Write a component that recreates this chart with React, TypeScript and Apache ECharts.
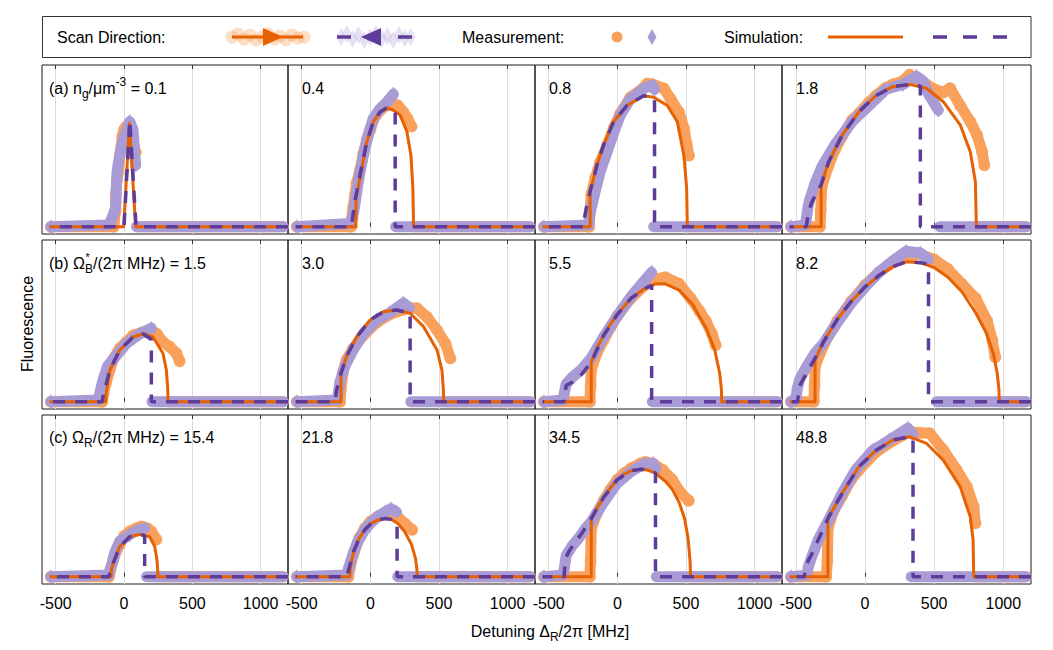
import React, { useEffect, useRef } from "react";
import * as echarts from "echarts";

const FONT = "'Liberation Sans', Arial, Helvetica, sans-serif";
const xTicks = [-500, 0, 500, 1000];
const xMin = -600;
const xMax = 1200;
const yMin = -0.045;
const yMax = 1;
const measEnd = 1165;

const panelValues = ["0.1", "0.4", "0.8", "1.8", "1.5", "3.0", "5.5", "8.2", "15.4", "21.8", "34.5", "48.8"];

// ---------- Row (a) ----------
const simF01 = [[-545, 0], [-2, 0], [40, 0.64], [85, 0], [1200, 0]];
const simB01 = [[1200, 0], [88, 0], [42, 0.66], [8, 0.12], [0, 0], [-545, 0]];
const measF01 = [[-535, 0], [-75, 0], [-62, 0.1], [-60, 0.2], [-51, 0.29], [-44, 0.33], [-31, 0.44], [-19, 0.5], [-12, 0.56], [0, 0.6], [17, 0.62], [42, 0.63], [54, 0.57], [71, 0.5], [86, 0.46]];
const measB01 = [[-535, 0], [-120, 0.01], [-100, 0.03], [-80, 0.07], [-62, 0.12], [-51, 0.34], [-44, 0.38], [-27, 0.46], [-12, 0.52], [17, 0.59], [42, 0.65], [66, 0.6], [78, 0.45], [86, 0.38]];

const simF02 = [[-545, 0], [-105, 0], [-105, 0.175], [-75, 0.3], [-26, 0.525], [22, 0.65], [71, 0.71], [120, 0.735], [168, 0.72], [217, 0.69], [266, 0.59], [296, 0.44], [310, 0.24], [315, 0], [1200, 0]];
const simB02 = [[1200, 0], [181, 0], [181, 0.7], [168, 0.72], [120, 0.735], [71, 0.71], [22, 0.65], [-26, 0.525], [-75, 0.32], [-112, 0.16], [-130, 0.05], [-138, 0], [-545, 0]];
const measF02 = [[-535, 0], [-140, 0], [-136, 0.05], [-125, 0.12], [-112, 0.2], [-100, 0.27], [-75, 0.35], [-51, 0.45], [-26, 0.54], [0, 0.6], [22, 0.66], [71, 0.72], [120, 0.75], [168, 0.76], [200, 0.75], [240, 0.71], [270, 0.67], [300, 0.62]];
const measB02 = [[-535, 0], [-148, 0.02], [-128, 0.06], [-112, 0.14], [-95, 0.24], [-75, 0.34], [-51, 0.44], [-15, 0.57], [22, 0.67], [71, 0.73], [120, 0.77], [168, 0.82]];

const simF03 = [[-545, 0], [-198, 0], [-198, 0.216], [-149, 0.38], [-100, 0.505], [-27, 0.65], [71, 0.75], [192, 0.81], [266, 0.8], [364, 0.75], [437, 0.65], [485, 0.44], [505, 0.24], [510, 0], [1200, 0]];
const simB03 = [[1200, 0], [271, 0], [271, 0.795], [192, 0.81], [71, 0.75], [-27, 0.65], [-100, 0.505], [-149, 0.38], [-198, 0.22], [-225, 0.12], [-241, 0.05], [-245, 0], [-545, 0]];
const measF03 = [[-535, 0], [-205, 0], [-200, 0.08], [-190, 0.2], [-161, 0.3], [-125, 0.4], [-76, 0.5], [-27, 0.61], [22, 0.7], [95, 0.8], [192, 0.86], [217, 0.885], [260, 0.88], [339, 0.855], [388, 0.79], [449, 0.71], [485, 0.61], [505, 0.515], [522, 0.44]];
const measB03 = [[-535, 0], [-210, 0.01], [-203, 0.07], [-186, 0.13], [-161, 0.22], [-125, 0.34], [-76, 0.46], [-27, 0.58], [22, 0.69], [95, 0.79], [192, 0.855], [254, 0.876], [270, 0.85]];

const simF04 = [[-545, 0], [-317, 0], [-317, 0.258], [-263, 0.4], [-165, 0.567], [-44, 0.71], [78, 0.81], [200, 0.866], [322, 0.88], [444, 0.856], [566, 0.773], [688, 0.63], [761, 0.464], [798, 0.278], [805, 0], [1200, 0]];
const simB04 = [[1200, 0], [400, 0], [400, 0.87], [322, 0.88], [200, 0.866], [78, 0.81], [-44, 0.71], [-165, 0.567], [-263, 0.4], [-317, 0.26], [-380, 0.16], [-410, 0.093], [-420, 0.02], [-425, 0], [-545, 0]];
const measF04 = [[-535, 0], [-325, 0], [-320, 0.1], [-312, 0.25], [-263, 0.38], [-215, 0.48], [-165, 0.56], [-93, 0.66], [-44, 0.7], [29, 0.77], [78, 0.81], [151, 0.86], [200, 0.88], [273, 0.9], [322, 0.94], [371, 0.92], [444, 0.88], [500, 0.85], [566, 0.83], [615, 0.856], [688, 0.75], [761, 0.65], [810, 0.567], [846, 0.464], [863, 0.38]];
const measB04 = [[-535, 0], [-430, 0.01], [-422, 0.06], [-410, 0.13], [-398, 0.17], [-361, 0.27], [-312, 0.37], [-215, 0.51], [-93, 0.65], [29, 0.75], [151, 0.85], [273, 0.88], [371, 0.93], [420, 0.9], [460, 0.82], [530, 0.72]];

// ---------- Row (b) ----------
const simF05 = [[-545, 0], [-134, 0], [-130, 0.05], [-104, 0.195], [-31, 0.32], [66, 0.4], [139, 0.42], [212, 0.4], [285, 0.3], [310, 0.196], [320, 0.08], [322, 0], [1200, 0]];
const simB05 = [[1200, 0], [200, 0], [200, 0.385], [139, 0.42], [66, 0.4], [-31, 0.32], [-104, 0.195], [-140, 0.08], [-154, 0.03], [-160, 0], [-545, 0]];
const measF05 = [[-535, 0], [-160, 0], [-150, 0.05], [-130, 0.12], [-104, 0.2], [-80, 0.26], [-31, 0.33], [17, 0.37], [66, 0.41], [139, 0.43], [200, 0.44], [240, 0.42], [285, 0.37], [334, 0.34], [383, 0.3], [407, 0.25]];
const measB05 = [[-535, 0], [-185, 0.01], [-178, 0.05], [-154, 0.134], [-120, 0.22], [-80, 0.26], [17, 0.36], [115, 0.42], [200, 0.454]];

const simF06 = [[-545, 0], [-214, 0], [-214, 0.175], [-173, 0.28], [-100, 0.4], [-2, 0.505], [95, 0.557], [193, 0.567], [290, 0.547], [388, 0.464], [486, 0.32], [522, 0.196], [532, 0.08], [534, 0], [1200, 0]];
const simB06 = [[1200, 0], [290, 0], [290, 0.547], [193, 0.567], [95, 0.557], [-2, 0.505], [-100, 0.4], [-173, 0.28], [-214, 0.175], [-246, 0.07], [-256, 0.01], [-258, 0], [-545, 0]];
const measF06 = [[-535, 0], [-220, 0], [-214, 0.08], [-200, 0.18], [-173, 0.26], [-125, 0.33], [-52, 0.41], [46, 0.49], [143, 0.54], [241, 0.57], [290, 0.58], [339, 0.578], [412, 0.525], [486, 0.443], [547, 0.36], [583, 0.268]];
const measB06 = [[-535, 0], [-240, 0.01], [-234, 0.05], [-222, 0.12], [-186, 0.22], [-125, 0.32], [-52, 0.42], [46, 0.505], [143, 0.55], [241, 0.61], [285, 0.58]];

const simF07 = [[-545, 0], [-190, 0], [-190, 0.245], [-150, 0.33], [-100, 0.41], [-50, 0.48], [0, 0.54], [100, 0.64], [200, 0.7], [280, 0.73], [350, 0.728], [450, 0.69], [550, 0.6], [650, 0.45], [710, 0.32], [745, 0.18], [758, 0.08], [761, 0], [1200, 0]];
const simB07 = [[1200, 0], [250, 0], [250, 0.72], [200, 0.7], [100, 0.64], [0, 0.54], [-100, 0.41], [-190, 0.245], [-260, 0.17], [-330, 0.12], [-373, 0.1], [-385, 0.03], [-388, 0], [-545, 0]];
const measF07 = [[-535, 0], [-200, 0], [-195, 0.1], [-190, 0.2], [-150, 0.3], [-100, 0.38], [-50, 0.46], [0, 0.53], [100, 0.64], [200, 0.72], [280, 0.76], [350, 0.77], [450, 0.73], [534, 0.64], [600, 0.56], [644, 0.5], [690, 0.42], [717, 0.35]];
const measB07 = [[-535, 0], [-395, 0.01], [-385, 0.06], [-373, 0.11], [-330, 0.15], [-260, 0.2], [-190, 0.27], [-100, 0.4], [0, 0.53], [100, 0.65], [200, 0.75], [250, 0.8]];

const simF08 = [[-545, 0], [-361, 0], [-361, 0.26], [-300, 0.37], [-250, 0.44], [-200, 0.51], [-100, 0.62], [0, 0.71], [100, 0.78], [200, 0.835], [300, 0.865], [400, 0.86], [500, 0.83], [600, 0.77], [700, 0.68], [800, 0.55], [880, 0.42], [930, 0.29], [955, 0.18], [968, 0.08], [971, 0], [1200, 0]];
const simB08 = [[1200, 0], [459, 0], [459, 0.85], [400, 0.86], [300, 0.865], [200, 0.835], [100, 0.78], [0, 0.71], [-100, 0.62], [-200, 0.51], [-300, 0.37], [-361, 0.27], [-420, 0.18], [-472, 0.1], [-485, 0.02], [-488, 0], [-545, 0]];
const measF08 = [[-535, 0], [-370, 0], [-365, 0.1], [-361, 0.22], [-300, 0.35], [-200, 0.5], [-100, 0.62], [0, 0.72], [100, 0.8], [200, 0.86], [300, 0.9], [400, 0.91], [500, 0.88], [600, 0.82], [700, 0.73], [800, 0.64], [883, 0.5], [920, 0.38], [942, 0.275]];
const measB08 = [[-535, 0], [-500, 0.01], [-490, 0.08], [-472, 0.14], [-420, 0.22], [-361, 0.3], [-300, 0.36], [-200, 0.49], [-100, 0.61], [0, 0.71], [100, 0.8], [200, 0.87], [298, 0.93], [400, 0.92], [459, 0.88]];

// ---------- Row (c) ----------
const simF09 = [[-545, 0], [-95, 0], [-92, 0.04], [-80, 0.083], [-31, 0.186], [42, 0.247], [115, 0.262], [188, 0.247], [225, 0.186], [242, 0.1], [249, 0], [1200, 0]];
const simB09 = [[1200, 0], [151, 0], [151, 0.255], [115, 0.262], [42, 0.247], [-31, 0.186], [-80, 0.083], [-105, 0.02], [-110, 0], [-545, 0]];
const measF09 = [[-535, 0], [-110, 0], [-100, 0.04], [-80, 0.1], [-50, 0.17], [-31, 0.2], [0, 0.25], [42, 0.28], [90, 0.3], [127, 0.31], [170, 0.3], [200, 0.28], [237, 0.23]];
const measB09 = [[-535, 0], [-112, 0.01], [-105, 0.03], [-85, 0.09], [-67, 0.15], [-31, 0.22], [42, 0.26], [100, 0.29], [151, 0.3]];

const simF10 = [[-545, 0], [-149, 0], [-146, 0.06], [-120, 0.16], [-80, 0.24], [-40, 0.29], [0, 0.325], [50, 0.35], [107, 0.36], [150, 0.355], [200, 0.33], [250, 0.28], [300, 0.2], [330, 0.11], [340, 0.04], [341, 0], [1200, 0]];
const simB10 = [[1200, 0], [195, 0], [195, 0.335], [150, 0.355], [107, 0.36], [50, 0.35], [0, 0.325], [-40, 0.29], [-80, 0.24], [-120, 0.16], [-150, 0.07], [-165, 0.02], [-168, 0], [-545, 0]];
const measF10 = [[-535, 0], [-160, 0], [-150, 0.05], [-120, 0.15], [-80, 0.24], [-40, 0.3], [0, 0.34], [50, 0.37], [107, 0.39], [150, 0.39], [200, 0.37], [250, 0.33], [305, 0.29]];
const measB10 = [[-535, 0], [-170, 0.01], [-160, 0.05], [-130, 0.13], [-90, 0.22], [-40, 0.29], [0, 0.33], [50, 0.37], [107, 0.4], [150, 0.42], [190, 0.4]];

const simF11 = [[-545, 0], [-190, 0], [-190, 0.36], [-150, 0.42], [-100, 0.49], [-50, 0.55], [0, 0.6], [50, 0.635], [100, 0.655], [168, 0.665], [220, 0.66], [278, 0.64], [350, 0.59], [400, 0.54], [450, 0.46], [490, 0.36], [515, 0.24], [530, 0.1], [534, 0], [1200, 0]];
const simB11 = [[1200, 0], [278, 0], [278, 0.64], [220, 0.66], [168, 0.665], [100, 0.655], [0, 0.6], [-100, 0.49], [-190, 0.36], [-250, 0.28], [-300, 0.22], [-350, 0.16], [-373, 0.12], [-385, 0.04], [-388, 0], [-545, 0]];
const measF11 = [[-535, 0], [-200, 0], [-195, 0.1], [-190, 0.3], [-150, 0.39], [-100, 0.47], [-50, 0.54], [0, 0.6], [50, 0.64], [100, 0.67], [168, 0.7], [204, 0.71], [260, 0.7], [330, 0.66], [400, 0.6], [461, 0.52], [520, 0.47]];
const measB11 = [[-535, 0], [-395, 0.01], [-385, 0.06], [-373, 0.13], [-330, 0.19], [-280, 0.24], [-230, 0.3], [-190, 0.34], [-100, 0.46], [0, 0.58], [100, 0.65], [200, 0.7], [260, 0.7], [280, 0.67]];

const simF12 = [[-545, 0], [-268, 0], [-268, 0.36], [-165, 0.516], [-44, 0.68], [78, 0.78], [200, 0.845], [322, 0.866], [444, 0.825], [566, 0.72], [688, 0.557], [761, 0.371], [781, 0.23], [786, 0], [1200, 0]];
const simB12 = [[1200, 0], [347, 0], [347, 0.855], [322, 0.866], [200, 0.845], [78, 0.78], [-44, 0.68], [-165, 0.516], [-268, 0.36], [-300, 0.3], [-337, 0.23], [-385, 0.14], [-410, 0.1], [-434, 0.04], [-437, 0], [-545, 0]];
const measF12 = [[-535, 0], [-280, 0], [-272, 0.1], [-268, 0.3], [-230, 0.4], [-165, 0.5], [-100, 0.6], [-44, 0.66], [78, 0.77], [200, 0.84], [322, 0.895], [400, 0.89], [468, 0.887], [566, 0.784], [663, 0.66], [737, 0.557], [786, 0.433], [798, 0.33]];
const measB12 = [[-535, 0], [-420, 0.01], [-410, 0.06], [-385, 0.124], [-337, 0.23], [-263, 0.35], [-165, 0.516], [-68, 0.66], [54, 0.78], [176, 0.845], [310, 0.918], [347, 0.88]];

const simFwd = [simF01, simF02, simF03, simF04, simF05, simF06, simF07, simF08, simF09, simF10, simF11, simF12];
const simBwd = [simB01, simB02, simB03, simB04, simB05, simB06, simB07, simB08, simB09, simB10, simB11, simB12];
const measFwd = [measF01, measF02, measF03, measF04, measF05, measF06, measF07, measF08, measF09, measF10, measF11, measF12];
const measBwd = [measB01, measB02, measB03, measB04, measB05, measB06, measB07, measB08, measB09, measB10, measB11, measB12];
// start of the flat (zero) measured segment on the right side of each panel
const measFwdRight = [95, 315, 510, 805, 322, 534, 761, 971, 249, 341, 534, 786];
const measBwdRight = [92, 185, 265, 540, 205, 295, 255, 517, 165, 200, 285, 334];

// ---------- styling ----------
const C_MEAS_O = "#f9a05b";
const C_MEAS_P = "#a99bd6";
const C_SIM_O = "#e66101";
const C_SIM_P = "#5e3c99";

const colLeft = [42, 288, 535, 782];
const colWidth = [246, 247, 247, 249];
const rowTop = [65, 240, 415];
const rowHeight = 169;
const rowLabelY = [88, 263, 437];

function measure(text: string, font: string): number {
  const c = document.createElement("canvas").getContext("2d");
  if (!c) return text.length * 8;
  c.font = font;
  return c.measureText(text).width;
}

const rich = {
  t: { fontSize: 16, fontFamily: FONT, fill: "#000", verticalAlign: "middle" },
  sub: { fontSize: 12, fontFamily: FONT, fill: "#000", padding: [12, 0, 0, 0], verticalAlign: "top" },
  sup: { fontSize: 12, fontFamily: FONT, fill: "#000", padding: [0, 0, 12, 0], verticalAlign: "top" },
};

function panelLabel(i: number): string {
  if (i === 0) return `{t|(a) n}{sub|g}{t|/μm}{sup|-3}{t| = ${panelValues[0]}}`;
  if (i === 4) return `{t|(b) Ω}{sub|B}{t|/(2π MHz) = ${panelValues[4]}}`;
  if (i === 8) return `{t|(c) Ω}{sub|R}{t|/(2π MHz) = ${panelValues[8]}}`;
  return `{t|${panelValues[i]}}`;
}

function buildOption() {
  const grid: any[] = [];
  const xAxis: any[] = [];
  const yAxis: any[] = [];
  const series: any[] = [];
  const graphic: any[] = [];

  for (let i = 0; i < 12; i++) {
    const r = Math.floor(i / 4);
    const c = i % 4;
    grid.push({
      left: colLeft[c], top: rowTop[r], width: colWidth[c], height: rowHeight,
      show: true, borderColor: "#1a1a1a", borderWidth: 1, backgroundColor: "transparent",
    });
    xAxis.push({
      type: "value", gridIndex: i, min: xMin, max: xMax, position: "bottom", splitNumber: 4,
      axisLine: { show: false },
      axisTick: { show: true, inside: true, length: 4, customValues: xTicks, lineStyle: { color: "#333" } },
      axisLabel: {
        show: r === 2, customValues: xTicks, fontSize: 16, color: "#000", margin: 11, fontFamily: FONT,
        formatter: (v: number) => String(v),
      },
      splitLine: { show: true, lineStyle: { color: "#dcdcdc", width: 1 } },
    });
    xAxis.push({
      type: "value", gridIndex: i, min: xMin, max: xMax, position: "top", splitNumber: 4,
      axisLine: { show: false },
      axisTick: { show: true, inside: true, length: 4, customValues: xTicks, lineStyle: { color: "#333" } },
      axisLabel: { show: false },
      splitLine: { show: false },
    });
    yAxis.push({ type: "value", gridIndex: i, min: yMin, max: yMax, show: false });

    const common = { xAxisIndex: 2 * i, yAxisIndex: i, silent: true, animation: false };
    const band = (data: number[][], color: string, width: number) => ({
      type: "line", ...common, data, symbol: "none", clip: false,
      lineStyle: { width, color, cap: "round", join: "round" }, itemStyle: { color },
    });
    series.push(band(measFwd[i], C_MEAS_O, 11));
    series.push(band([[measFwdRight[i], 0], [measEnd, 0]], C_MEAS_O, 11));
    series.push({
      type: "scatter", ...common, data: measFwd[i], symbol: "circle", symbolSize: 12, clip: false,
      itemStyle: { color: C_MEAS_O },
    });
    series.push(band(measBwd[i], C_MEAS_P, 11));
    series.push(band([[measBwdRight[i], 0], [measEnd, 0]], C_MEAS_P, 11));
    series.push({
      type: "scatter", ...common, data: measBwd[i], symbol: "diamond", symbolSize: [11, 15], clip: false,
      itemStyle: { color: C_MEAS_P },
    });
    series.push({
      type: "line", ...common, data: simFwd[i], symbol: "none",
      lineStyle: { width: 3, color: C_SIM_O, join: "round" }, itemStyle: { color: C_SIM_O },
    });
    series.push({
      type: "line", ...common, data: simBwd[i], symbol: "none",
      lineStyle: { width: 3.5, color: C_SIM_P, type: [12, 10] }, itemStyle: { color: C_SIM_P },
    });

    graphic.push({
      type: "text", x: c === 0 ? 49 : colLeft[c] + 14, y: rowLabelY[r], z: 50,
      style: { text: panelLabel(i), rich, fontSize: 16, fontFamily: FONT, fill: "#000", align: "left", verticalAlign: "middle" },
    });
  }

  // star above the B subscript
  const starX = 49 + measure("(b) Ω", `16px ${FONT}`) + 0.5;
  graphic.push({
    type: "text", x: starX, y: rowLabelY[1] - 6, z: 50,
    style: { text: "*", fontSize: 11, fontFamily: FONT, fill: "#000", align: "left", verticalAlign: "middle" },
  });

  // axis titles
  graphic.push({
    type: "text", x: 550, y: 631, z: 50,
    style: { text: "{t|Detuning Δ}{sub|R}{t|/2π [MHz]}", rich, fontSize: 16, fontFamily: FONT, fill: "#000", align: "center", verticalAlign: "middle" },
  });
  graphic.push({
    type: "text", x: 27, y: 324, rotation: Math.PI / 2, z: 50,
    style: { text: "Fluorescence", fontSize: 16, fontFamily: FONT, fill: "#000", align: "center", verticalAlign: "middle" },
  });

  // legend box
  const ly = 37;
  graphic.push({ type: "rect", z: 40, shape: { x: 42.5, y: 16.5, width: 988.5, height: 41 }, style: { fill: "#fff", stroke: "#333", lineWidth: 1 } });
  const legendText = (text: string, x: number) => ({
    type: "text", x, y: ly, z: 45,
    style: { text, fontSize: 16, fontFamily: FONT, fill: "#000", align: "left", verticalAlign: "middle" },
  });
  graphic.push(legendText("Scan Direction:", 57));
  graphic.push(legendText("Measurement:", 462));
  graphic.push(legendText("Simulation:", 724));

  const cloudOffsets = [0, -3, 2, -2, 3, 0, -3, 2, -1, 3, -2, 1, 0];
  cloudOffsets.forEach((dy, k) => {
    graphic.push({ type: "circle", z: 42, shape: { cx: 232 + k * 6, cy: ly + dy, r: 6.5 }, style: { fill: C_MEAS_O, opacity: 0.35 } });
    const px = 341 + k * 5.8;
    graphic.push({
      type: "polygon", z: 42,
      shape: { points: [[px, ly - 9 + dy], [px + 5, ly + dy], [px, ly + 9 + dy], [px - 5, ly + dy]] },
      style: { fill: C_MEAS_P, opacity: 0.3 },
    });
  });
  graphic.push({ type: "line", z: 43, shape: { x1: 232, y1: ly, x2: 303, y2: ly }, style: { stroke: C_SIM_O, lineWidth: 3 } });
  graphic.push({ type: "polygon", z: 43, shape: { points: [[263, ly - 9], [283, ly], [263, ly + 9]] }, style: { fill: C_SIM_O } });
  graphic.push({ type: "line", z: 43, shape: { x1: 337, y1: ly, x2: 351, y2: ly }, style: { stroke: C_SIM_P, lineWidth: 3.5 } });
  graphic.push({ type: "line", z: 43, shape: { x1: 398, y1: ly, x2: 412, y2: ly }, style: { stroke: C_SIM_P, lineWidth: 3.5 } });
  graphic.push({ type: "polygon", z: 43, shape: { points: [[381, ly - 9], [361, ly], [381, ly + 9]] }, style: { fill: C_SIM_P } });

  graphic.push({ type: "circle", z: 43, shape: { cx: 617, cy: ly, r: 5.5 }, style: { fill: C_MEAS_O } });
  graphic.push({ type: "polygon", z: 43, shape: { points: [[652, ly - 8], [656.5, ly], [652, ly + 8], [647.5, ly]] }, style: { fill: C_MEAS_P } });
  graphic.push({ type: "line", z: 43, shape: { x1: 828, y1: ly, x2: 903, y2: ly }, style: { stroke: C_SIM_O, lineWidth: 3 } });
  graphic.push({ type: "line", z: 43, shape: { x1: 933, y1: ly, x2: 1010, y2: ly }, style: { stroke: C_SIM_P, lineWidth: 3.5, lineDash: [14, 16] } });

  return {
    animation: false,
    backgroundColor: "#fff",
    textStyle: { fontFamily: FONT },
    grid, xAxis, yAxis, series, graphic,
  };
}

export default function App() {
  const ref = useRef<HTMLDivElement>(null);
  useEffect(() => {
    if (!ref.current) return;
    const chart = echarts.init(ref.current, null, { renderer: "svg" });
    chart.setOption(buildOption() as any);
    return () => chart.dispose();
  }, []);
  return (
    <div
      ref={ref}
      style={{ position: "fixed", left: 0, top: 0, width: 1053, height: 650, background: "#fff" }}
    />
  );
}
